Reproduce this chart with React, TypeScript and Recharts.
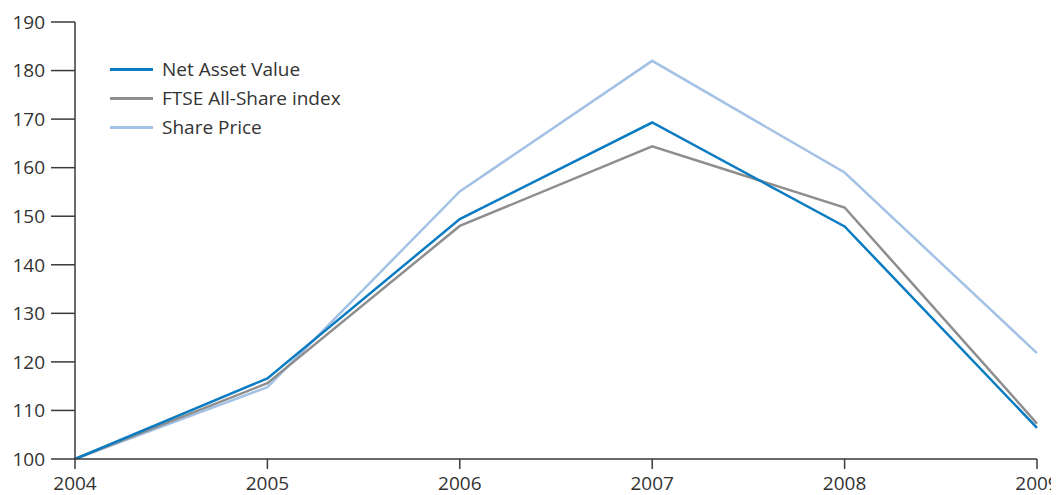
import React from 'react';
import { LineChart, Line, XAxis, YAxis, Legend } from 'recharts';

// Years on the horizontal axis
const years = ['2004', '2005', '2006', '2007', '2008', '2009'];

// Rebased performance series (2004 = 100)
const netAssetValue = [100, 116.6, 149.4, 169.3, 147.9, 106.4];
const ftseAllShare = [100, 115.6, 148.0, 164.4, 151.8, 107.3];
const sharePrice = [100, 114.8, 155.1, 182.0, 159.0, 121.8];

// Vertical axis ticks
const yTicks = [100, 110, 120, 130, 140, 150, 160, 170, 180, 190];

const seriesInfo = [
  { key: 'nav', name: 'Net Asset Value', color: '#0b7cc1' },
  { key: 'ftse', name: 'FTSE All-Share index', color: '#8e8e8e' },
  { key: 'share', name: 'Share Price', color: '#a4c2e5' },
];

const data = years.map((year, i) => ({
  year,
  nav: netAssetValue[i],
  ftse: ftseAllShare[i],
  share: sharePrice[i],
}));

const FONT = '"Open Sans", "Noto Sans", sans-serif';
const TEXT = '#333333';
const AXIS = '#3a3a3a';

const LegendBox = () => (
  <div style={{ fontFamily: FONT }}>
    {seriesInfo.map((s) => (
      <div
        key={s.key}
        style={{ display: 'flex', alignItems: 'center', height: 29 }}
      >
        <div
          style={{ width: 43, height: 3, background: s.color, marginRight: 9 }}
        />
        <span style={{ fontSize: 19, color: TEXT, lineHeight: '29px' }}>
          {s.name}
        </span>
      </div>
    ))}
  </div>
);

export default function App() {
  return (
    <LineChart
      width={1051}
      height={487}
      data={data}
      margin={{ top: 14, right: 22, left: 0, bottom: 0 }}
      style={{ fontFamily: FONT }}
    >
      <XAxis
        dataKey="year"
        height={36}
        tickSize={10}
        tickMargin={8}
        stroke={AXIS}
        strokeWidth={1.5}
        tick={{ fill: TEXT, fontSize: 19 }}
        interval={0}
      />
      <YAxis
        width={67}
        domain={[100, 190]}
        ticks={yTicks}
        tickSize={24}
        tickMargin={6}
        stroke={AXIS}
        strokeWidth={1.5}
        tick={{ fill: TEXT, fontSize: 19 }}
        allowDataOverflow
      />
      <Legend
        layout="vertical"
        verticalAlign="middle"
        align="center"
        content={<LegendBox />}
        wrapperStyle={{ left: 102, top: 47, width: 320 }}
      />
      <Line
        dataKey="share"
        name="Share Price"
        stroke={seriesInfo[2].color}
        strokeWidth={2.5}
        dot={false}
        isAnimationActive={false}
      />
      <Line
        dataKey="ftse"
        name="FTSE All-Share index"
        stroke={seriesInfo[1].color}
        strokeWidth={2.5}
        dot={false}
        isAnimationActive={false}
      />
      <Line
        dataKey="nav"
        name="Net Asset Value"
        stroke={seriesInfo[0].color}
        strokeWidth={2.5}
        dot={false}
        isAnimationActive={false}
      />
    </LineChart>
  );
}
